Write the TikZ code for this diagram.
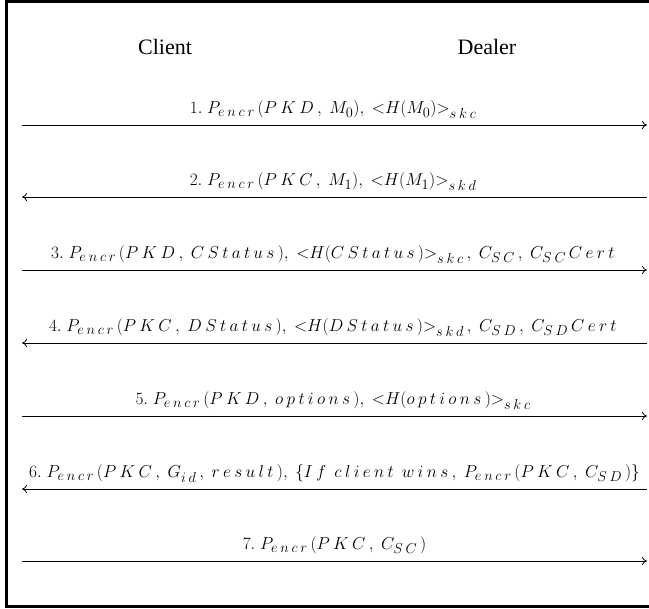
\documentclass[tikz,border=0pt]{standalone}
\usepackage{amsmath,amssymb}
\usepackage{fontspec}
\setmainfont{Liberation Serif}
\usepackage{tikz}
\usetikzlibrary{arrows.meta}

% loose letter spacing for the italic names in the messages
\makeatletter
\newcommand\spread[1]{\spread@#1\@nil}
\def\spread@#1{\ifx\@nil#1\else#1\mkern3.5mu\expandafter\spread@\fi}
\makeatother
\newcommand\enc{P_{\spread{encr}}}

\begin{document}
\begin{tikzpicture}[x=1pt, y=-1pt,
    every node/.style={inner sep=0pt},
    party/.style={font=\fontsize{22}{26}\selectfont},
    msg/.style={anchor=base, yshift=11pt, font=\fontsize{19}{22}\selectfont},
    flow/.style={line width=0.8pt, -{To[length=5pt,width=8pt]}}
    ]
    \useasboundingbox (0,0) rectangle (649,609);
    % frame, open on the right side
    \draw[line width=3pt] (649,1.5) -- (6.5,1.5) -- (6.5,606.5) -- (649,606.5);

    \node[party] (client) at (165,47) {Client};
    \node[party] (dealer) at (487,47) {Dealer};

    % end points of the message lines
    \foreach \i/\y in {1/125,2/197,3/270,4/343,5/416,6/489,7/561} {
      \coordinate (c\i) at (22,\y);
      \coordinate (d\i) at (647,\y);
    }

    \draw[flow] (c1) -- node[msg] (m1)
      {$1.\ \enc(\spread{PKD},\ M_0),\ {<}H(M_0){>}_{\spread{skc}}$} (d1);
    \draw[flow] (d2) -- node[msg] (m2)
      {$2.\ \enc(\spread{PKC},\ M_1),\ {<}H(M_1){>}_{\spread{skd}}$} (c2);
    \draw[flow] (c3) -- node[msg] (m3)
      {$3.\ \enc(\spread{PKD},\ \spread{CStatus}),\ {<}H(\spread{CStatus}){>}_{\spread{skc}},\ C_{\spread{SC}},\ C_{\spread{SC}}\spread{Cert}$} (d3);
    \draw[flow] (d4) -- node[msg] (m4)
      {$4.\ \enc(\spread{PKC},\ \spread{DStatus}),\ {<}H(\spread{DStatus}){>}_{\spread{skd}},\ C_{\spread{SD}},\ C_{\spread{SD}}\spread{Cert}$} (c4);
    \draw[flow] (c5) -- node[msg] (m5)
      {$5.\ \enc(\spread{PKD},\ \spread{options}),\ {<}H(\spread{options}){>}_{\spread{skc}}$} (d5);
    \draw[flow] (d6) -- node[msg] (m6)
      {$6.\ \enc(\spread{PKC},\ G_{\spread{id}},\ \spread{result}),\ \{\spread{If}\ \spread{client}\ \spread{wins},\ \enc(\spread{PKC},\ C_{\spread{SD}})\}$} (c6);
    \draw[flow] (c7) -- node[msg] (m7)
      {$7.\ \enc(\spread{PKC},\ C_{\spread{SC}})$} (d7);
\end{tikzpicture}
\end{document}
